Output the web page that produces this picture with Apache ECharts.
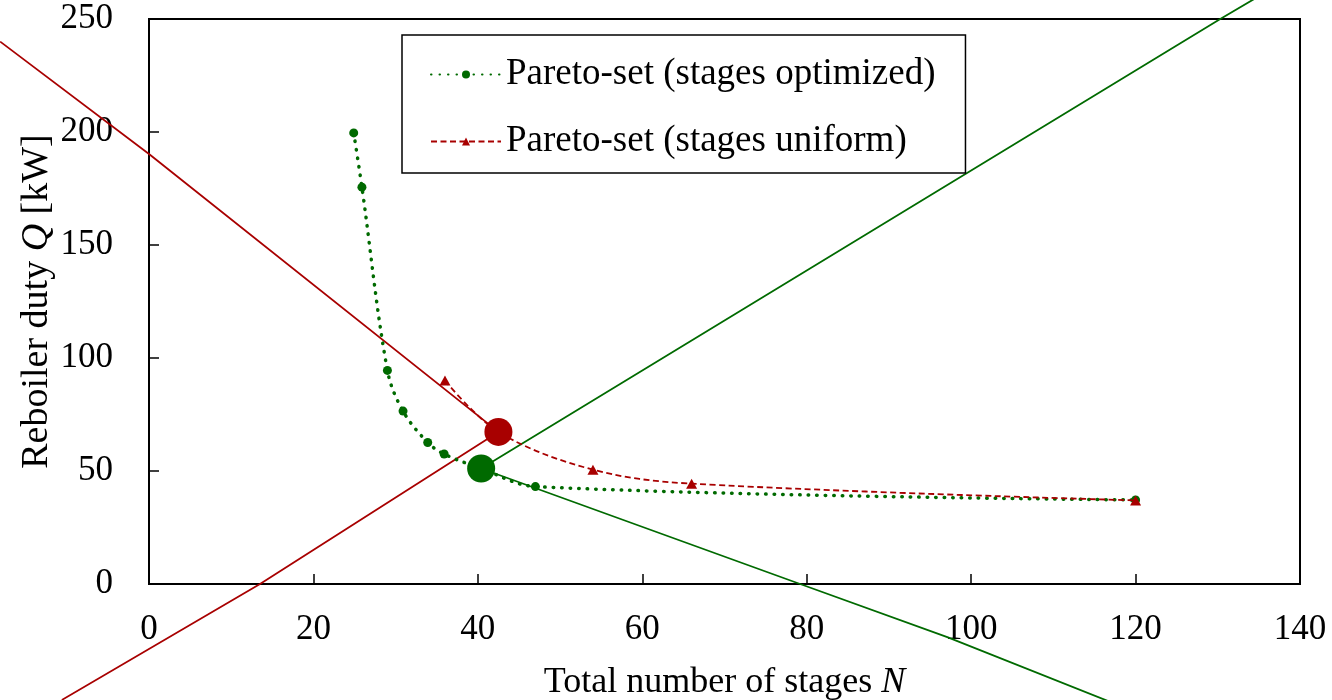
<!DOCTYPE html>
<html>
<head>
<meta charset="utf-8">
<script src="https://cdn.jsdelivr.net/npm/echarts@6/dist/echarts.min.js"></script>
<style>html,body{margin:0;padding:0;background:#fff}#c{width:1332px;height:700px}</style>
</head>
<body>
<div id="c"></div>
<script>
// Pareto-set (stages optimized)
const optN = [24.9, 25.9, 29.0, 30.9, 33.9, 35.9, 40.4, 47.0, 120];
const optQ = [199.6, 175.6, 94.5, 76.5, 62.6, 57.5, 51.1, 43.1, 37.2];
// Pareto-set (stages uniform)
const uniN = [36.0, 42.5, 54.0, 66.0, 120];
const uniQ = [90.0, 67.3, 50.6, 44.4, 37.0];
// knee points
const kneeOpt = [40.4, 51.1];
const kneeUni = [42.5, 67.3];
// tangent lines
const redDownN = [-18.1, 0, 42.5];
const redDownQ = [240, 190.3, 67.3];
const redUpN = [-10.6, 13.5, 42.5];
const redUpQ = [-51.3, 0, 67.3];
const greenUpN = [40.4, 130.3, 134.5];
const greenUpQ = [51.1, 250, 259];
const greenDownN = [40.4, 79.2, 97.1, 117.5];
const greenDownQ = [51.1, 0, -23.5, -53];
// axis ticks
const xTicks = [0, 20, 40, 60, 80, 100, 120, 140];
const yTicks = [0, 50, 100, 150, 200, 250];

const GREEN = '#006a00';
const RED = '#a80000';
const FONT = 'Liberation Serif';
const zip = (a, b) => a.map((v, i) => [v, b[i]]);

// layout
const W = 1332, H = 700, GL = 149, GR = 32, GT = 19, GB = 116;
const XMIN = 0, XMAX = 140, YMIN = 0, YMAX = 250;
const kx = (W - GL - GR) / (XMAX - XMIN);
const ky = (H - GT - GB) / (YMAX - YMIN);
// a hidden full-canvas axis pair with the same scale, so tangent lines may run past the frame
const fullX = [XMIN - GL / kx, XMAX + GR / kx];
const fullY = [YMIN - GB / ky, YMAX + GT / ky];

function fitLine(xs, ys, color) {
  return {
    type: 'line', xAxisIndex: 1, yAxisIndex: 1, data: zip(xs, ys), clip: false, silent: true, symbol: 'none',
    lineStyle: { color: color, width: 1.8 }, z: 2
  };
}

const chart = echarts.init(document.getElementById('c'), null, { renderer: 'canvas' });
chart.setOption({
  animation: false,
  backgroundColor: '#fff',
  grid: [
    { left: GL, top: GT, right: GR, bottom: GB, outerBoundsMode: 'none', containLabel: false,
      show: true, borderColor: '#000', borderWidth: 2, backgroundColor: 'transparent' },
    { left: 0, top: 0, right: 0, bottom: 0, outerBoundsMode: 'none', containLabel: false, show: false }
  ],
  legend: {
    data: ['Pareto-set (stages optimized)', 'Pareto-set (stages uniform)'],
    orient: 'vertical', left: 402, top: 35,
    padding: [21, 30, 13, 28],
    itemGap: 30, itemWidth: 70, itemHeight: 10,
    borderColor: '#000', borderWidth: 1.5, backgroundColor: '#fff',
    textStyle: { fontFamily: FONT, fontSize: 37, color: '#000', lineHeight: 37 }
  },
  xAxis: [{
    type: 'value', min: XMIN, max: XMAX, interval: 20,
    name: 'Total number of stages {i|N}', nameLocation: 'middle', nameGap: 81, nameMoveOverlap: false,
    nameTextStyle: { fontFamily: FONT, fontSize: 36, color: '#000',
      rich: { i: { fontFamily: FONT, fontSize: 36, fontStyle: 'italic', color: '#000' } } },
    axisLine: { lineStyle: { color: '#000', width: 2 } },
    axisTick: { inside: true, length: 10, lineStyle: { color: '#000', width: 1.5 } },
    axisLabel: { fontFamily: FONT, fontSize: 35, color: '#000', margin: 28,
      formatter: v => xTicks.includes(v) ? String(v) : '' },
    splitLine: { show: false }
  }, {
    type: 'value', gridIndex: 1, min: fullX[0], max: fullX[1], show: false
  }],
  yAxis: [{
    type: 'value', min: YMIN, max: YMAX, interval: 50,
    name: 'Reboiler duty {i|Q} [kW]', nameLocation: 'middle', nameGap: 93, nameMoveOverlap: false,
    nameTextStyle: { fontFamily: FONT, fontSize: 38, color: '#000',
      rich: { i: { fontFamily: FONT, fontSize: 38, fontStyle: 'italic', color: '#000' } } },
    axisLine: { lineStyle: { color: '#000', width: 2 } },
    axisTick: { inside: true, length: 10, lineStyle: { color: '#000', width: 1.5 } },
    axisLabel: { fontFamily: FONT, fontSize: 35, color: '#000', margin: 36, padding: [5, 0, 0, 0],
      formatter: v => yTicks.includes(v) ? String(v) : '' },
    splitLine: { show: false }
  }, {
    type: 'value', gridIndex: 1, min: fullY[0], max: fullY[1], show: false
  }],
  series: [
    fitLine(redDownN, redDownQ, RED),
    fitLine(redUpN, redUpQ, RED),
    fitLine(greenUpN, greenUpQ, GREEN),
    fitLine(greenDownN, greenDownQ, GREEN),
    {
      name: 'Pareto-set (stages optimized)', type: 'line', data: zip(optN, optQ),
      smooth: 0.35,
      symbol: 'circle', symbolSize: 9, showAllSymbol: true,
      itemStyle: { color: GREEN },
      lineStyle: { color: GREEN, width: 3.5, type: [0.5, 8], cap: 'round' }, z: 3
    },
    {
      name: 'Pareto-set (stages uniform)', type: 'line', data: zip(uniN, uniQ),
      smooth: 0.35,
      symbol: 'triangle', symbolSize: [11, 10], showAllSymbol: true,
      itemStyle: { color: RED },
      lineStyle: { color: RED, width: 1.8, type: [6, 3.5] }, z: 4
    },
    {
      type: 'scatter', data: [kneeOpt], symbolSize: 28, silent: true,
      itemStyle: { color: GREEN, opacity: 1 }, z: 5
    },
    {
      type: 'scatter', data: [kneeUni], symbolSize: 28, silent: true,
      itemStyle: { color: RED, opacity: 1 }, z: 5
    }
  ]
});
</script>
</body>
</html>
